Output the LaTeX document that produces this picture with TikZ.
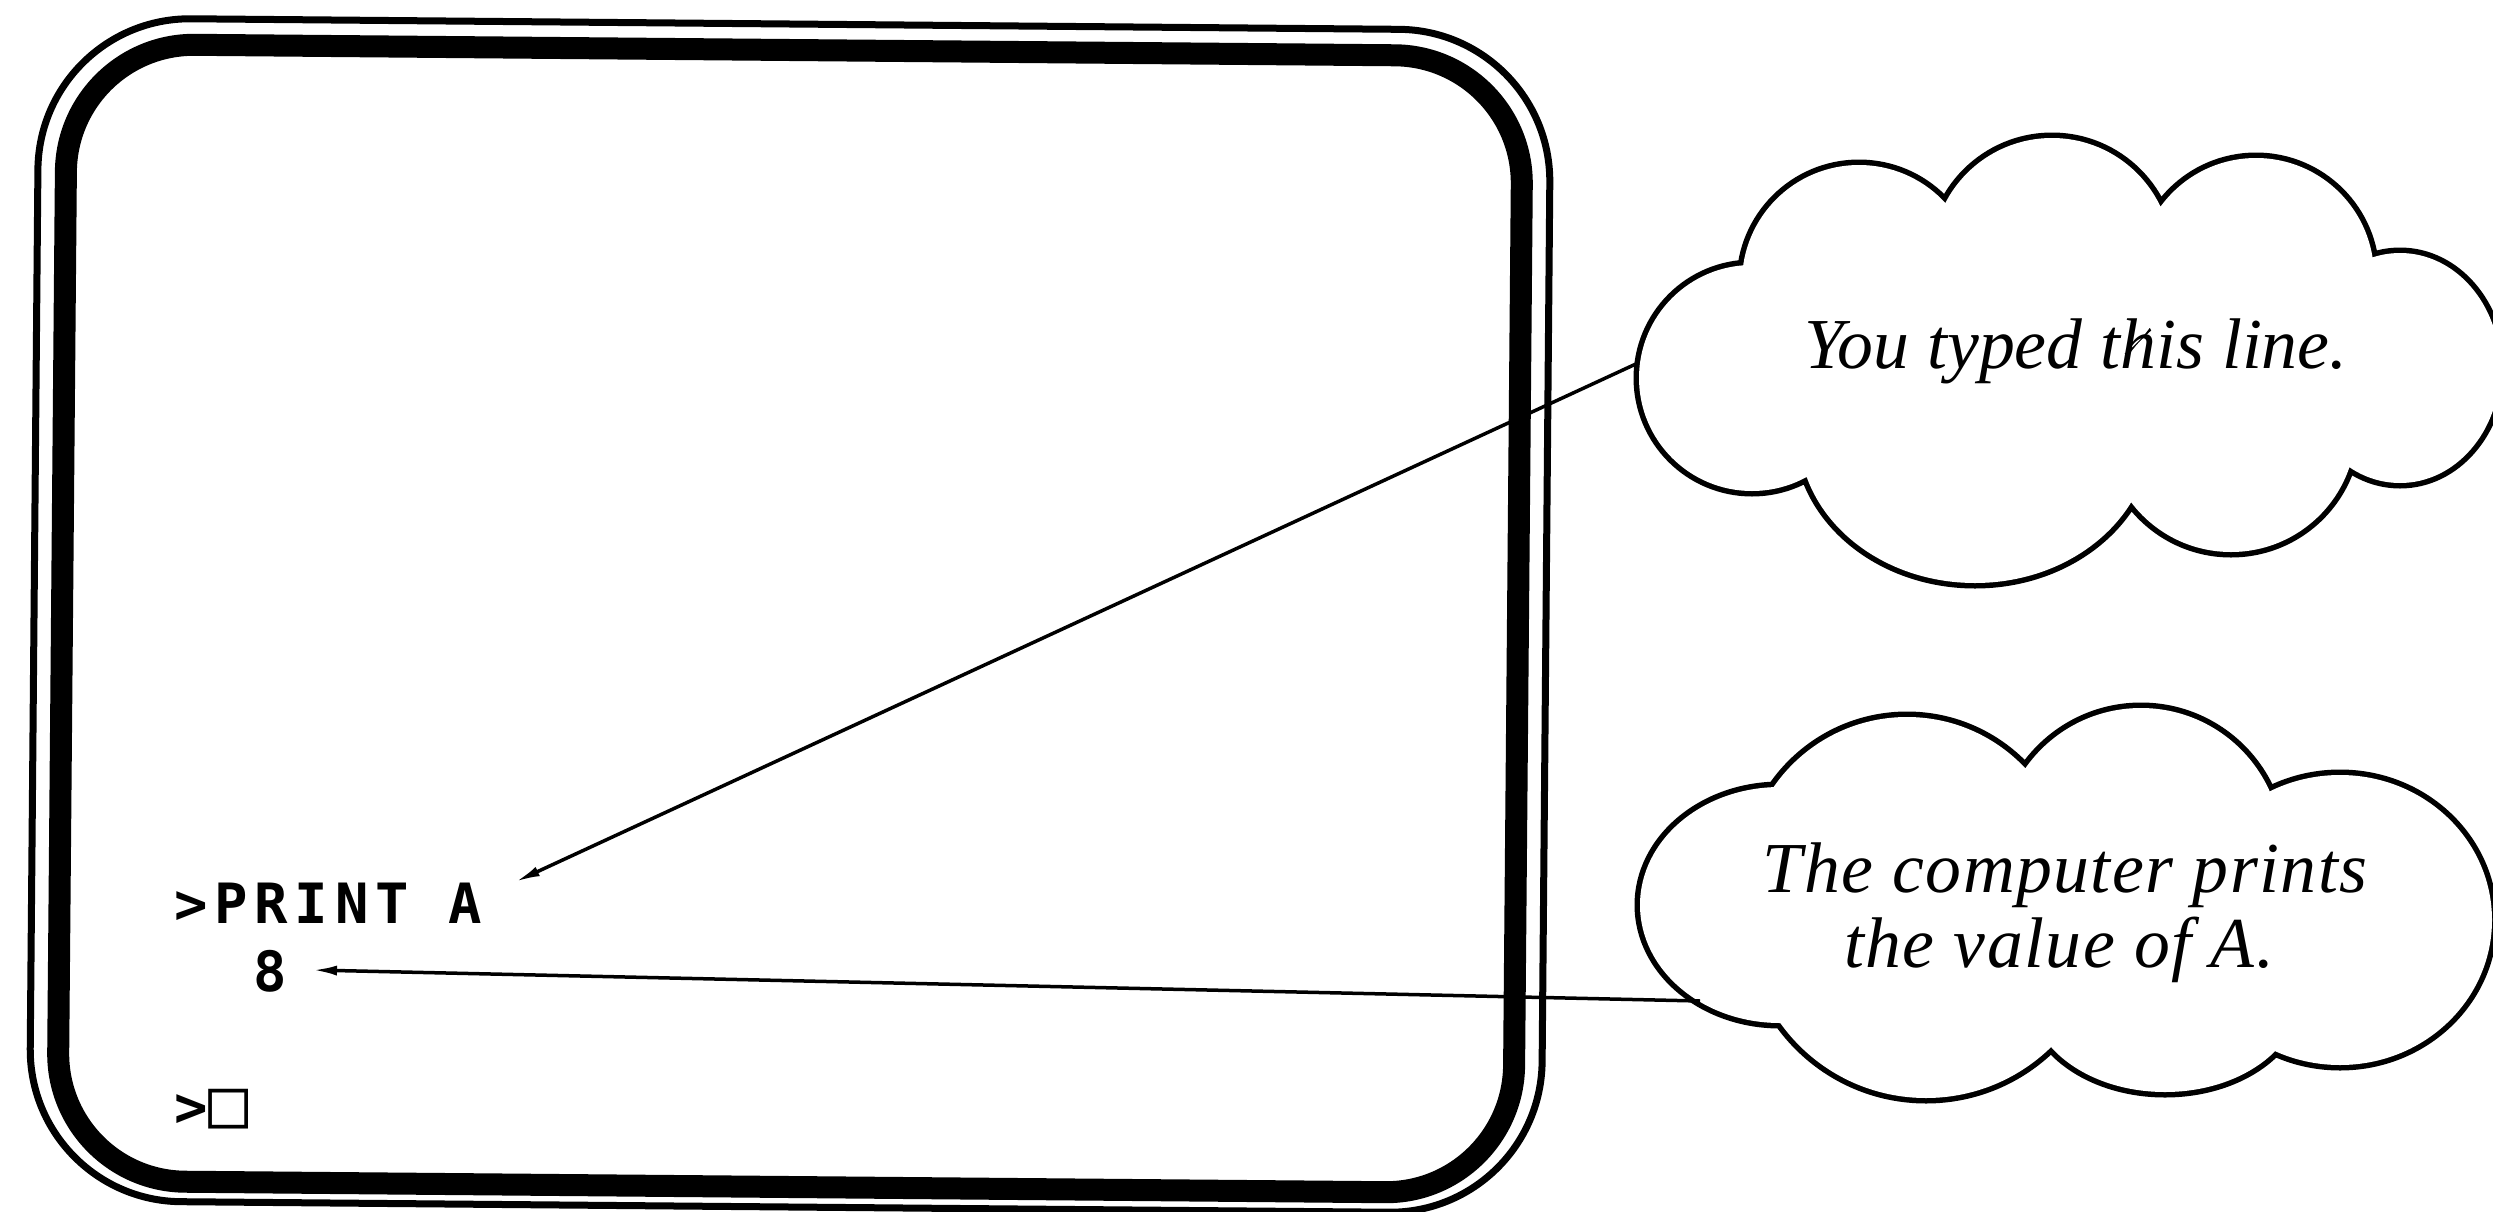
\documentclass[tikz,border=0pt]{standalone}
\usepackage{fontspec}
\setmainfont{Liberation Serif}
\newfontfamily\screenfont{DejaVu Sans Mono}[LetterSpace=12]
\newfontfamily\cursorfont{DejaVu Sans Mono}
\usetikzlibrary{arrows.meta}
\newcommand{\topcloudpath}[1]{\path[#1]
 (18.59,-2.82) circle[radius=1.17]
 (20.52,-2.58) circle[radius=1.20]
 (22.56,-2.76) circle[radius=1.18]
 (24.00,-3.68) ellipse[x radius=1.00,y radius=1.15]
 (22.31,-4.27) circle[radius=1.25]
 (19.75,-4.33) ellipse[x radius=1.76,y radius=1.50]
 (17.52,-3.78) circle[radius=1.13];}
\newcommand{\botcloudpath}[1]{\path[#1]
 (19.07,-8.79) circle[radius=1.62]
 (21.41,-8.49) circle[radius=1.41]
 (23.40,-9.20) ellipse[x radius=1.52,y radius=1.45]
 (21.65,-9.95) ellipse[x radius=1.35,y radius=0.97]
 (19.26,-9.19) circle[radius=1.79]
 (17.80,-9.05) ellipse[x radius=1.40,y radius=1.18];}
\begin{document}
\begin{tikzpicture}[
  screentext/.style={anchor=base west, inner sep=0pt,
    font=\screenfont\bfseries\fontsize{15.8}{18}\selectfont},
  cloudtext/.style={anchor=base, inner sep=0pt,
    font=\itshape\fontsize{20.4}{24}\selectfont},
  cloudline/.style={line width=0.11cm},
  conn/.style={line width=0.035cm, -{Latex[length=0.25cm,width=0.1cm]}},
  thickbezel/.style={line width=0.22cm, rounded corners=1.28cm},
  thinbezel/.style={line width=0.07cm, rounded corners=1.52cm}
]
\useasboundingbox[fill=white] (0,0) rectangle (24.93,-12.12);
% screen bezel
\begin{scope}[rotate around={-0.5:(7.90,-6.18)}]
  \draw[thickbezel] (0.62,-0.50) rectangle (15.18,-11.87);
  \draw[thinbezel] (0.34,-0.24) rectangle (15.46,-12.07);
\end{scope}
% screen text
\node[screentext] (l1) at (1.74,-9.23) {>PRINT A};
\node[screentext] (l2) at (2.53,-9.91) {8};
\node[screentext] (l3) at (1.74,-11.26) {>{\cursorfont\bfseries\fontsize{19}{19}\selectfont □}};
% clouds
\topcloudpath{draw, cloudline}
\topcloudpath{fill=white}
\botcloudpath{draw, cloudline}
\botcloudpath{fill=white}
\node[cloudtext] (t1) at (20.76,-3.68) {You typed this line.};
\node[cloudtext, font=\itshape\fontsize{20.4}{24}\selectfont\addfontfeature{LetterSpace=2}] (t2a) at (20.65,-8.92) {The computer prints};
\node[cloudtext, font=\itshape\fontsize{20.4}{24}\selectfont\addfontfeature{LetterSpace=2}] (t2b) at (20.59,-9.67) {the value of A.};
% connectors
\coordinate (att1) at (16.38,-3.63);
\coordinate (tip1) at (5.15,-8.82);
\coordinate (att2) at (17.00,-10.01);
\coordinate (tip2) at (3.12,-9.70);
\draw[conn] (att1) -- (tip1);
\draw[conn] (att2) -- (tip2);
\end{tikzpicture}
\end{document}
